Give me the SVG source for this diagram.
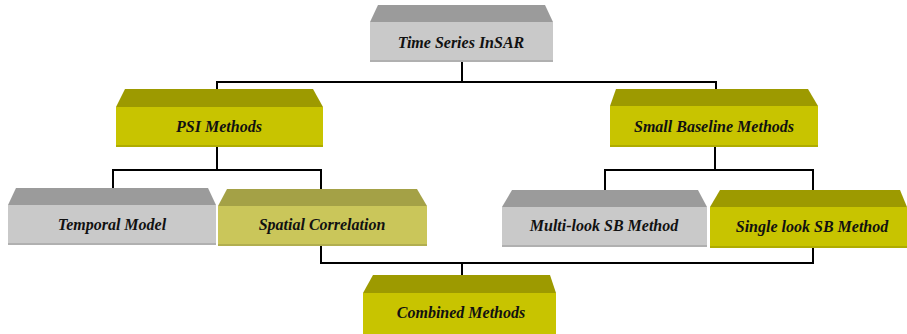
<svg xmlns="http://www.w3.org/2000/svg" width="907" height="334" viewBox="0 0 907 334">
  <style>
    .wire { fill: none; stroke: #000; stroke-width: 2; }
    .lbl { font-family: "Liberation Serif", "Times New Roman", serif; font-weight: bold; font-style: italic; font-size: 16px; fill: #111; text-anchor: middle; dominant-baseline: central; }
    .g-top { fill: #9b9b9b; }
    .g-front { fill: #c9c9c9; }
    .y-top { fill: #9d9a00; }
    .y-front { fill: #c8c400; }
    .s-top { fill: #a4a146; }
    .s-front { fill: #cac65a; }
    .edge { fill: #000; opacity: 0.12; }
  </style>
  <rect width="907" height="334" fill="#fff"/>

  <g id="connectors">
    <polyline class="wire" points="462,62 462,82"/>
    <polyline class="wire" points="217,89 217,82 716,82 716,89"/>
    <polyline class="wire" points="217,147 217,170"/>
    <polyline class="wire" points="113,188 113,170 321,170 321,189"/>
    <polyline class="wire" points="715,147 715,170"/>
    <polyline class="wire" points="605,190 605,170 813,170 813,190"/>
    <polyline class="wire" points="321,246 321,263 813,263 813,248"/>
    <polyline class="wire" points="462,263 462,275"/>
  </g>

  <g id="time-series-insar">
    <polygon class="g-top" points="378,5 545,5 553,22 370,22"/>
    <rect class="g-front" x="370" y="22" width="183" height="40"/>
    <rect class="edge" x="370" y="60" width="183" height="2"/>
    <text class="lbl" x="461" y="42">Time Series InSAR</text>
  </g>

  <g id="psi-methods">
    <polygon class="y-top" points="125,89 313,89 323,107 116,107"/>
    <rect class="y-front" x="116" y="107" width="207" height="40"/>
    <rect class="edge" x="116" y="145" width="207" height="2"/>
    <text class="lbl" x="219" y="126">PSI Methods</text>
  </g>

  <g id="small-baseline-methods">
    <polygon class="y-top" points="616,89 808,89 818,106 610,106"/>
    <rect class="y-front" x="610" y="106" width="208" height="41"/>
    <rect class="edge" x="610" y="145" width="208" height="2"/>
    <text class="lbl" x="714" y="126">Small Baseline Methods</text>
  </g>

  <g id="temporal-model">
    <polygon class="g-top" points="16,188 208,188 216,205 8,205"/>
    <rect class="g-front" x="8" y="205" width="208" height="40"/>
    <rect class="edge" x="8" y="243" width="208" height="2"/>
    <text class="lbl" x="112" y="224">Temporal Model</text>
  </g>

  <g id="spatial-correlation">
    <polygon class="s-top" points="227,189 417,189 427,206 218,206"/>
    <rect class="s-front" x="218" y="206" width="209" height="40"/>
    <rect class="edge" x="218" y="244" width="209" height="2"/>
    <text class="lbl" x="322" y="224">Spatial Correlation</text>
  </g>

  <g id="multi-look-sb-method">
    <polygon class="g-top" points="512,190 698,190 707,207 502,207"/>
    <rect class="g-front" x="502" y="207" width="205" height="40"/>
    <rect class="edge" x="502" y="245" width="205" height="2"/>
    <text class="lbl" x="604" y="225">Multi-look SB Method</text>
  </g>

  <g id="single-look-sb-method">
    <polygon class="y-top" points="720,190 900,190 907,207 710,207"/>
    <rect class="y-front" x="710" y="207" width="197" height="41"/>
    <rect class="edge" x="710" y="246" width="197" height="2"/>
    <text class="lbl" x="812" y="226">Single look SB Method</text>
  </g>

  <g id="combined-methods">
    <polygon class="y-top" points="373,275 550,275 556,293 363,293"/>
    <rect class="y-front" x="363" y="293" width="193" height="41"/>
    <text class="lbl" x="461" y="312">Combined Methods</text>
  </g>
</svg>
